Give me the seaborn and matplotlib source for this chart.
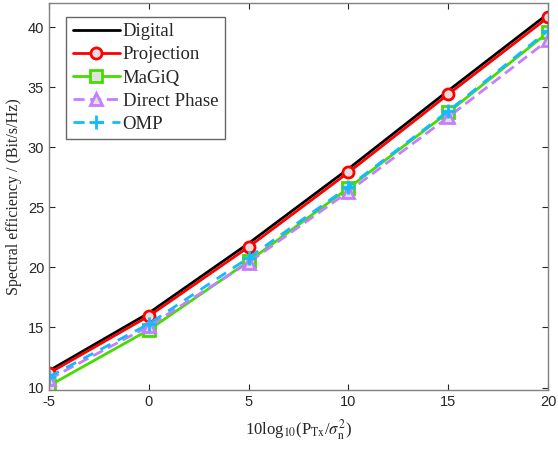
import matplotlib
matplotlib.use("Agg")
import matplotlib.pyplot as plt
import pandas as pd
import seaborn as sns

snr_db = [-5, 0, 5, 10, 15, 20]
digital = [11.4, 16.2, 22.0, 28.2, 34.7, 41.1]
projection = [11.2, 15.95, 21.7, 27.9, 34.4, 40.8]
magiq = [10.15, 14.8, 20.5, 26.6, 32.9, 39.55]
direct_phase = [10.7, 15.1, 20.4, 26.3, 32.5, 38.9]
omp = [10.9, 15.3, 20.8, 26.7, 33.0, 39.7]

series_names = ["Digital", "Projection", "MaGiQ", "Direct Phase", "OMP"]
series_values = [digital, projection, magiq, direct_phase, omp]

STYLES = {
    "Digital": dict(color="#000000", marker=None, ls="-"),
    "Projection": dict(color="#ff0000", marker="o", ls="-"),
    "MaGiQ": dict(color="#44dd00", marker="s", ls="-"),
    "Direct Phase": dict(color="#c77dff", marker="^", ls=(0, (4, 2))),
    "OMP": dict(color="#11bbff", marker="+", ls=(0, (4, 3))),
}

df = pd.DataFrame(
    [(x, y, name) for name, vals in zip(series_names, series_values) for x, y in zip(snr_db, vals)],
    columns=["snr", "se", "method"],
)

sns.set_style("ticks")
plt.rcParams["font.family"] = ["Liberation Sans", "DejaVu Sans"]
plt.rcParams["mathtext.fontset"] = "stix"
plt.rcParams["axes.unicode_minus"] = False

fig = plt.figure(figsize=(5.58, 4.51), dpi=100)
ax = fig.add_axes([0.0878, 0.1353, 0.8942, 0.858])

for name in series_names:
    st = STYLES[name]
    sub = df[df["method"] == name]
    marker = st["marker"]
    sns.lineplot(
        data=sub, x="snr", y="se", ax=ax, label=name, color=st["color"],
        linewidth=2.0, linestyle=st["ls"],
        marker=marker if marker else "",
        markersize=8 if marker != "+" else 10,
        markerfacecolor="#e0e0e0",
        markeredgecolor=st["color"], markeredgewidth=2.0,
    )

ax.set_xlim(-5, 20)
ax.set_ylim(9.8, 42)
ax.set_xticks([-5, 0, 5, 10, 15, 20])
ax.set_yticks([10, 15, 20, 25, 30, 35, 40])
ax.tick_params(direction="in", top=True, right=True, labelsize=10.5, colors="#262626", length=4)
for sp in ax.spines.values():
    sp.set_color("#808080")
    sp.set_linewidth(1.0)

serif = ["Liberation Serif", "DejaVu Serif"]
ax.set_xlabel(r"10log$_{10}$(P$_{\rm Tx}$/$\sigma_{\rm n}^2$)", family=serif, fontsize=12,
              color="#262626", labelpad=6)
ax.set_ylabel("Spectral efficiency / (Bit/s/Hz)", family=serif, fontsize=11.5, color="#262626")

leg = ax.legend(loc="upper left", bbox_to_anchor=(0.035, 0.965), prop={"family": serif, "size": 13.5},
                frameon=True, fancybox=False, edgecolor="#404040", handlelength=2.5,
                borderpad=0.35, labelspacing=0.32, handletextpad=0.15, borderaxespad=0)
leg.get_frame().set_linewidth(1.0)

fig.savefig("out.png", dpi=100)
